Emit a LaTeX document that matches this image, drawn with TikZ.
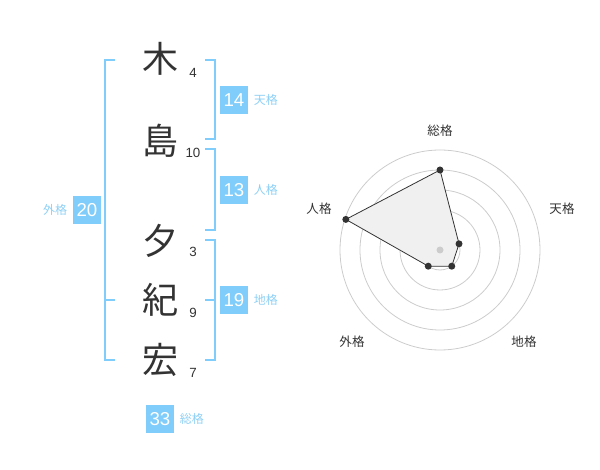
\documentclass[tikz,border=0pt]{standalone}
\usepackage{fontspec}
\usetikzlibrary{positioning}
\setmainfont{Liberation Sans}
\newfontfamily\jpfont{Noto Sans CJK JP}
\definecolor{kakublue}{HTML}{80CCFA}
\definecolor{kakulabel}{HTML}{8ED0F5}
\definecolor{inkgray}{HTML}{333333}
\tikzset{
  namechar/.style={font=\jpfont\fontsize{27}{27}\selectfont, text=inkgray, inner sep=0pt},
  strokes/.style={font=\fontsize{10}{10}\selectfont, text=inkgray, inner sep=0pt},
  kakubox/.style={fill=kakublue, text=white, minimum size=21pt, inner sep=0pt,
    font=\fontsize{14}{14}\selectfont},
  kakuname/.style={font=\jpfont\fontsize{9}{9}\selectfont, text=kakulabel, inner sep=0pt},
  bracket/.style={draw=kakublue, line width=1.5pt},
  ring/.style={draw=black!20, line width=0.6pt},
  axislabel/.style={font=\jpfont\fontsize{9.4}{9.4}\selectfont, text=inkgray, inner sep=0pt}
}
\begin{document}
\begin{tikzpicture}[x=0.75pt, y=-0.75pt]
        \useasboundingbox (0, 0) rectangle (600, 470);
        % name characters and stroke counts
        \node[namechar] (c1) at (160, 59) {木};
        \node[namechar] (c2) at (160, 141) {島};
        \node[namechar] (c3) at (160, 241) {夕};
        \node[namechar] (c4) at (160, 300) {紀};
        \node[namechar] (c5) at (160, 360) {宏};
        \node[strokes] (s1) at (193, 73) {4};
        \node[strokes] (s2) at (193, 153) {10};
        \node[strokes] (s3) at (193, 252) {3};
        \node[strokes] (s4) at (193, 313) {9};
        \node[strokes] (s5) at (193, 373) {7};
        % brackets
        \draw[bracket] (115, 60) -- (105, 60) -- (105, 360) -- (115, 360);
        \draw[bracket] (105, 300) -- (115, 300);
        \draw[bracket] (205, 60) -- (215, 60) -- (215, 139) -- (205, 139);
        \draw[bracket] (205, 149) -- (215, 149) -- (215, 230) -- (205, 230);
        \draw[bracket] (205, 240) -- (215, 240) -- (215, 360) -- (205, 360);
        \draw[bracket] (205, 300) -- (215, 300);
        % totals
        \node[kakubox] (ten) at (234, 100) {14};
        \node[kakuname, right=4pt of ten] (tenl) {天格};
        \node[kakubox] (jin) at (234, 190) {13};
        \node[kakuname, right=4pt of jin] (jinl) {人格};
        \node[kakubox] (chi) at (234, 300) {19};
        \node[kakuname, right=4pt of chi] (chil) {地格};
        \node[kakubox] (gai) at (87, 210) {20};
        \node[kakuname, left=4pt of gai] (gail) {外格};
        \node[kakubox] (sou) at (160, 419) {33};
        \node[kakuname, right=4pt of sou] (soul) {総格};
        % radar chart
        \begin{scope}[shift={(440, 250)}, yscale=-1]
          \foreach \r in {20, 40, ..., 100}
            \draw[ring] (0, 0) circle (\r);
          \coordinate (p-sou) at (90:80);
          \coordinate (p-ten) at (18:20);
          \coordinate (p-chi) at (-54:20);
          \coordinate (p-gai) at (-126:20);
          \coordinate (p-jin) at (162:99);
          \filldraw[fill=black!6, draw=inkgray, line width=0.6pt]
            (p-sou) -- (p-ten) -- (p-chi) -- (p-gai) -- (p-jin) -- cycle;
          \fill[black!20] (0, 0) circle (3.5);
          \foreach \p in {sou, ten, chi, gai, jin}
            \fill[inkgray] (p-\p) circle (3.5);
        \end{scope}
        \node[axislabel] (a-sou) at (440, 131) {総格};
        \node[axislabel] (a-ten) at (562, 209) {天格};
        \node[axislabel] (a-jin) at (319, 209) {人格};
        \node[axislabel] (a-gai) at (352, 342) {外格};
        \node[axislabel] (a-chi) at (524, 342) {地格};
\end{tikzpicture}
\end{document}
